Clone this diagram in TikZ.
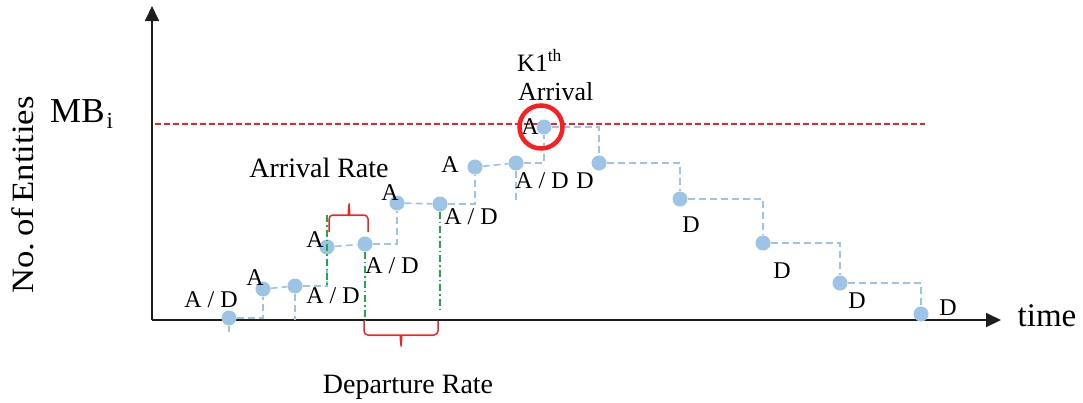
\documentclass[tikz,border=0pt]{standalone}
\usepackage{fontspec}
\setmainfont{Liberation Serif}
\usetikzlibrary{arrows.meta}
\definecolor{dotblue}{RGB}{157,195,230}
\definecolor{limitred}{RGB}{250,30,30}
\definecolor{bracered}{RGB}{232,40,40}
\definecolor{rategreen}{RGB}{30,170,70}
\definecolor{axisgray}{RGB}{30,30,30}
\begin{document}
\begin{tikzpicture}[x=1pt, y=-1pt,
	axis/.style={draw=axisgray, line width=1.8pt, -{Triangle[length=15pt,width=14pt]}},
	entity/.style={circle, fill=dotblue, inner sep=0pt, minimum size=15pt},
	stepline/.style={draw=dotblue, line width=1.6pt, dash pattern={on 7pt off 4pt}},
	rateline/.style={draw=rategreen, line width=1.4pt, dash pattern={on 7pt off 3pt on 1.5pt off 3pt}},
	ratebrace/.style={draw=bracered, line width=1.5pt, rounded corners=4pt},
	evlabel/.style={font=\fontsize{24}{28}\selectfont, inner sep=0pt},
	biglabel/.style={font=\fontsize{28}{32}\selectfont, inner sep=0pt}]
	\useasboundingbox (0, 0) rectangle (1083, 402);
	\coordinate (origin) at (152, 320);
	\coordinate (ytip) at (152, 6);
	\coordinate (xtip) at (1001, 320);
	\draw[axis] (origin) -- (ytip);
	\draw[axis] (origin) -- (xtip);
	\coordinate (mbleft) at (155, 124);
	\coordinate (mbright) at (925, 124);
	\draw[draw=limitred, line width=1.5pt, dash pattern={on 6pt off 3pt}] (mbleft) -- (mbright);
	\node[anchor=base, rotate=90, font=\fontsize{31}{36}\selectfont, inner sep=0pt] (yname) at (33, 195) {\scalebox{1.12}[1]{No.\,of\,Entities}};
	\node[anchor=base west, font=\fontsize{35}{40}\selectfont, inner sep=0pt] (mbname) at (50, 122) {MB\kern2pt\raisebox{-6pt}{\fontsize{23}{23}\selectfont i}};
	\node[anchor=base, font=\fontsize{33}{38}\selectfont, inner sep=0pt] (xname) at (1047, 326) {time};
	% queue length steps
	\node[entity] (p1) at (229, 318) {};
	\node[entity] (p2) at (263, 289) {};
	\node[entity] (p3) at (295, 286) {};
	\node[entity] (p4) at (327, 247) {};
	\node[entity] (p5) at (365, 244) {};
	\node[entity] (p6) at (397, 203) {};
	\node[entity] (p7) at (440, 204) {};
	\node[entity] (p8) at (475, 167) {};
	\node[entity] (p9) at (516, 163) {};
	\node[entity] (p10) at (544, 127) {};
	\node[entity] (p11) at (599, 163) {};
	\node[entity] (p12) at (680, 199) {};
	\node[entity] (p13) at (763, 243) {};
	\node[entity] (p14) at (840, 283) {};
	\node[entity] (p15) at (921, 314) {};
	\draw[stepline] (p1) -| (p2);
	\draw[stepline] (p2) -- (p3);
	\draw[stepline] (p3) -| (p4);
	\draw[stepline] (p4) -- (p5);
	\draw[stepline] (p5) -| (p6);
	\draw[stepline] (p6) -- (p7);
	\draw[stepline] (p7) -| (p8);
	\draw[stepline] (p8) -- (p9);
	\draw[stepline] (p9) -| (p10);
	\draw[stepline] (p10) -| (p11);
	\draw[stepline] (p11) -| (p12);
	\draw[stepline] (p12) -| (p13);
	\draw[stepline] (p13) -| (p14);
	\draw[stepline] (p14) -| (p15);
	\draw[stepline] (p1) -- ++(0, 14);
	\draw[stepline] (p3) -- (p3 |- origin);
	\draw[stepline] (p9) -- ++(0, 37);
	\node[evlabel] (l1) at (211, 300) {A / D};
	\node[evlabel] (l2) at (255, 278) {A};
	\node[evlabel] (l3) at (333, 296) {A / D};
	\node[evlabel] (l4) at (315, 240) {A};
	\node[evlabel] (l5) at (392, 266) {A / D};
	\node[evlabel] (l6) at (390, 193) {A};
	\node[evlabel] (l7) at (471, 217) {A / D};
	\node[evlabel] (l8) at (450, 165) {A};
	\node[evlabel] (l9) at (542, 181) {A / D};
	\node[evlabel] (l10) at (530, 127) {A};
	\node[evlabel] (l11) at (585, 181) {D};
	\node[evlabel] (l12) at (691, 225) {D};
	\node[evlabel] (l13) at (782, 271) {D};
	\node[evlabel] (l14) at (857, 301) {D};
	\node[evlabel] (l15) at (948, 308) {D};
	% arrival and departure intervals
	\coordinate (arrtop) at (327, 215);
	\draw[rateline] (arrtop) -- (arrtop |- p3);
	\draw[rateline] (p5) -- (p5 |- origin);
	\draw[rateline] (p7) -- ([yshift=8pt]p7 |- origin);
	\draw[ratebrace] (329, 232) |- (345, 215) to[out=0, in=-90] (349, 201) to[out=-90, in=180] (353, 215) -| (368, 232);
	\draw[ratebrace] (364, 321) |- (397, 335) to[out=0, in=90] (401, 349) to[out=90, in=180] (405, 335) -| (438, 321);
	\node[biglabel] (arrname) at (319, 168) {Arrival Rate};
	\node[biglabel, anchor=base] (depname) at (408, 393) {Departure Rate};
	% capacity reached
	\node[draw=limitred, circle, line width=4.5pt, minimum size=43pt, inner sep=0pt] (k1ring) at (541, 127) {};
	\node[anchor=base west, font=\fontsize{25}{30}\selectfont, inner sep=0pt] (k1name) at (517, 71) {K1\textsuperscript{th}};
	\node[anchor=base west, font=\fontsize{26}{30}\selectfont, inner sep=0pt] (k1arr) at (518, 100) {Arrival};
\end{tikzpicture}
\end{document}
